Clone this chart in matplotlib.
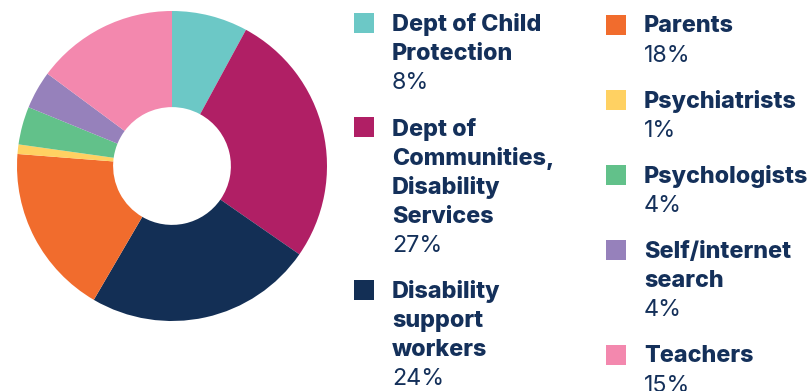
import matplotlib.pyplot as plt

labels = [
    "Dept of Child\nProtection",
    "Dept of\nCommunities,\nDisability\nServices",
    "Disability\nsupport\nworkers",
    "Parents",
    "Psychiatrists",
    "Psychologists",
    "Self/internet\nsearch",
    "Teachers",
]
values = [8, 27, 24, 18, 1, 4, 4, 15]
colors = ["#6CC8C6", "#B01F65", "#132F55", "#F16C2D",
          "#FFD162", "#62C18A", "#9681BB", "#F388AE"]
columns = [[0, 1, 2], [3, 4, 5, 6, 7]]

TEXT = "#14305A"
W, H = 812, 391

fig = plt.figure(figsize=(W / 100, H / 100), dpi=100)
fig.patch.set_facecolor("white")

# donut, placed in pixel terms: centre (172, 166), radius 155
cx, cy, r = 172, 166, 155
ax = fig.add_axes([(cx - r) / W, (H - cy - r) / H, 2 * r / W, 2 * r / H])
ax.pie(
    values,
    colors=colors,
    startangle=90,
    counterclock=False,
    radius=1.0,
    wedgeprops=dict(width=0.62, linewidth=0),
)
ax.set_xlim(-1, 1)
ax.set_ylim(-1, 1)
ax.set_aspect("equal")
ax.axis("off")

# custom legend in two columns
line_h = 29.2
gap = 46
col_x = [(354, 392, 22.7), (606, 644, 24.5)]
text_shift = 2.0  # centre of the glyph bbox sits a bit high


def fy(y):
    return (H - y) / H


for (sq_x, tx, y0), idx in zip(col_x, columns):
    y = y0
    for i in idx:
        fig.patches.append(plt.Rectangle(
            (sq_x / W, fy(y + 10)), 20 / W, 20 / H,
            transform=fig.transFigure, facecolor=colors[i], edgecolor="none"))
        for line in labels[i].split("\n"):
            fig.text(tx / W, fy(y + text_shift), line, fontsize=16.8,
                     fontweight="heavy", color=TEXT, va="center", ha="left",
                     family="Inter")
            y += line_h
        fig.text(tx / W, fy(y + text_shift), f"{values[i]}%", fontsize=16.8,
                 color=TEXT, va="center", ha="left", family="Inter")
        y += gap

fig.savefig("out.png", dpi=100, facecolor="white")
